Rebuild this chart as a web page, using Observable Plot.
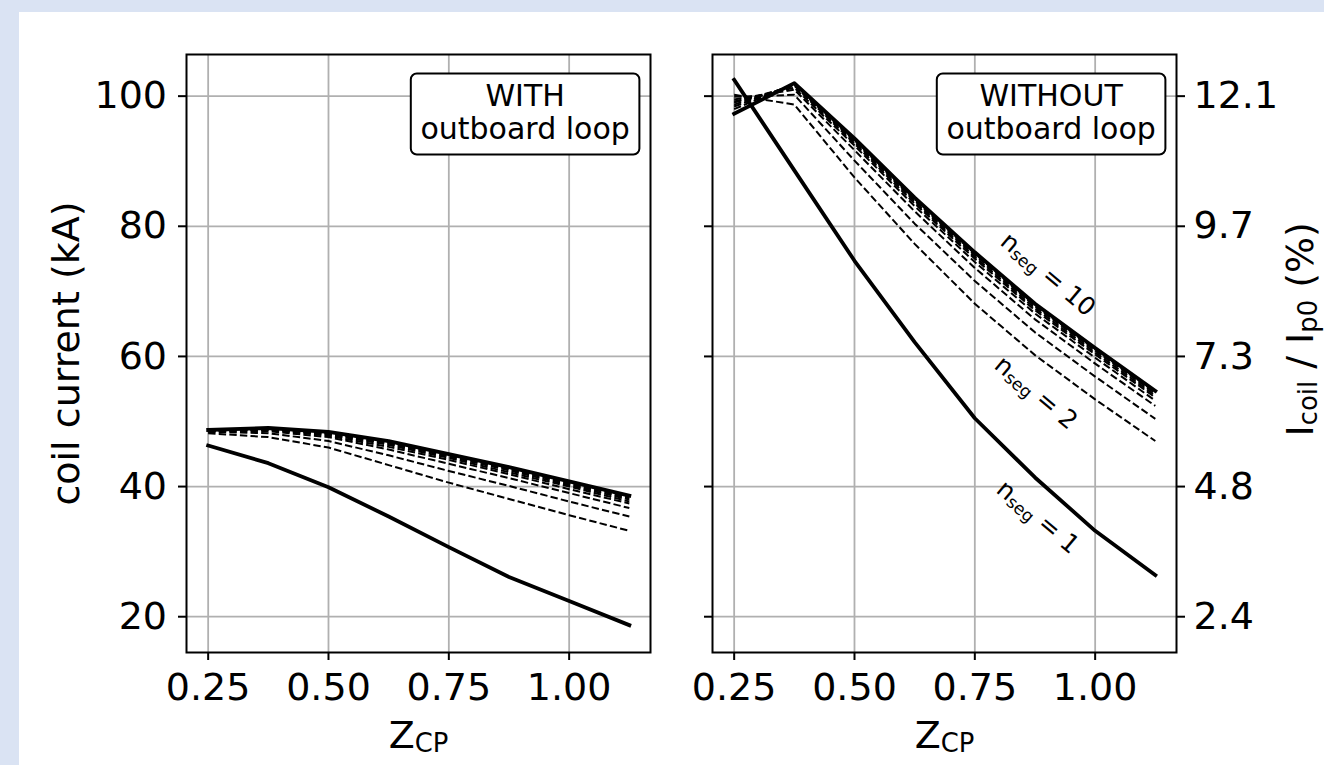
<!DOCTYPE html>
<html>
<head>
<meta charset="utf-8">
<script src="https://cdn.jsdelivr.net/npm/d3@7"></script>
<script src="https://cdn.jsdelivr.net/npm/@observablehq/plot@0.6"></script>
<style>
  html, body { margin: 0; padding: 0; background: #dae3f3; }
  #fig { position: relative; width: 1324px; height: 765px; overflow: hidden; background: #dae3f3; }
  #paper { position: absolute; left: 19px; top: 12px; right: 0; bottom: 0; background: #ffffff; }
  #left { position: absolute; left: 0; top: 0; }
  #right { position: absolute; left: 680px; top: 0; }
  svg text { white-space: pre; }
</style>
</head>
<body>
<div id="fig"><div id="paper"></div><div id="left"></div><div id="right"></div></div>
<script>
// ---------------- data ----------------
const zcp = [0.25, 0.375, 0.5, 0.625, 0.75, 0.875, 1.0, 1.125];
const nsegValues = [1, 2, 3, 4, 5, 6, 7, 8, 9, 10];

// WITH outboard loop: coil current (kA) for n_seg = 1..10
const withN1  = [46.3, 43.6, 39.9, 35.4, 30.7, 26.1, 22.4, 18.7];
const withN2  = [48.2, 47.6, 46.0, 43.3, 40.6, 38.1, 35.6, 33.2];
const withN3  = [48.4, 48.2, 47.0, 44.8, 42.4, 40.1, 37.7, 35.4];
const withN4  = [48.5, 48.5, 47.6, 45.7, 43.5, 41.3, 39.0, 36.7];
const withN5  = [48.6, 48.7, 47.8, 46.1, 44.1, 41.9, 39.6, 37.4];
const withN6  = [48.6, 48.8, 48.0, 46.4, 44.4, 42.2, 40.0, 37.7];
const withN7  = [48.6, 48.8, 48.1, 46.6, 44.6, 42.5, 40.2, 38.0];
const withN8  = [48.7, 48.9, 48.2, 46.7, 44.8, 42.7, 40.4, 38.2];
const withN9  = [48.7, 48.9, 48.3, 46.9, 44.9, 42.8, 40.6, 38.4];
const withN10 = [48.7, 49.0, 48.4, 47.0, 45.0, 43.0, 40.8, 38.6];

// WITHOUT outboard loop
const withoutN1  = [102.5, 88.6, 74.7, 62.2, 50.5, 41.4, 33.2, 26.4];
const withoutN2  = [100.2, 98.7, 87.5, 77.3, 68.1, 60.2, 53.4, 47.0];
const withoutN3  = [99.9, 100.2, 90.1, 80.4, 71.6, 63.7, 56.9, 50.4];
const withoutN4  = [99.5, 101.0, 91.7, 82.3, 73.6, 65.7, 58.9, 52.4];
const withoutN5  = [99.2, 101.3, 92.4, 83.1, 74.5, 66.6, 59.8, 53.2];
const withoutN6  = [99.0, 101.6, 92.7, 83.5, 75.0, 67.1, 60.3, 53.7];
const withoutN7  = [98.7, 101.7, 93.0, 83.8, 75.3, 67.4, 60.6, 54.0];
const withoutN8  = [98.4, 101.8, 93.2, 84.0, 75.6, 67.7, 60.9, 54.3];
const withoutN9  = [98.0, 101.9, 93.3, 84.2, 75.8, 67.9, 61.1, 54.5];
const withoutN10 = [97.3, 102.0, 93.5, 84.4, 76.0, 68.1, 61.3, 54.7];

const xTicks = [0.25, 0.5, 0.75, 1.0];
const xTickLabels = ["0.25", "0.50", "0.75", "1.00"];
const yTicks = [20, 40, 60, 80, 100];
const yTickLabels = ["20", "40", "60", "80", "100"];
const rightTickLabels = ["2.4", "4.8", "7.3", "9.7", "12.1"];

const panelTitles = ["WITH\noutboard loop", "WITHOUT\noutboard loop"];
const xLabel = "Z_{CP}";
const yLabel = "coil current (kA)";
const yRightLabel = "I_{coil} / I_{p0} (%)";

const segLabelText = ["n_{seg} = 10", "n_{seg} = 2", "n_{seg} = 1"];
const segLabelZ = [0.902, 0.877, 0.881];
const segLabelKA = [72.6, 54.4, 35.3];

// ---------------- tables ----------------
function toRows(seriesList) {
  const rows = [];
  seriesList.forEach((vals, k) => {
    vals.forEach((v, i) => rows.push({n: nsegValues[k], z: zcp[i], kA: v}));
  });
  return rows;
}
const withRows = toRows([withN1, withN2, withN3, withN4, withN5, withN6, withN7, withN8, withN9, withN10]);
const withoutRows = toRows([withoutN1, withoutN2, withoutN3, withoutN4, withoutN5, withoutN6, withoutN7, withoutN8, withoutN9, withoutN10]);
const segLabels = segLabelText.map((t, i) => ({t, z: segLabelZ[i], kA: segLabelKA[i]}));

const FONT = "DejaVu Sans";
const GRID = {stroke: "#b0b0b0", strokeOpacity: 1, strokeWidth: 1.8};

function lineMarks(rows) {
  return [
    Plot.line(rows.filter(d => d.n === 1), {x: "z", y: "kA", z: "n", stroke: "black", strokeWidth: 3.8, strokeLinecap: "square", strokeLinejoin: "round"}),
    Plot.line(rows.filter(d => d.n > 1 && d.n < 10), {x: "z", y: "kA", z: "n", stroke: "black", strokeWidth: 2, strokeDasharray: "7.4,3.2", strokeLinecap: "butt", strokeLinejoin: "round"}),
    Plot.line(rows.filter(d => d.n === 10), {x: "z", y: "kA", z: "n", stroke: "black", strokeWidth: 3.8, strokeLinecap: "square", strokeLinejoin: "round"})
  ];
}

function common(title) {
  return [
    Plot.frame({stroke: "black", strokeWidth: 2}),
    Plot.axisX(xTicks, {tickFormat: d => xTickLabels[xTicks.indexOf(d)], tickSize: 8, tickPadding: 13, strokeWidth: 2, fontSize: 38, label: null}),
    Plot.text([xLabel], {text: d => d, frameAnchor: "bottom", textAnchor: "middle", lineAnchor: "bottom", dy: 95, fontSize: 38}),
    Plot.text([title], {text: d => d, frameAnchor: "top-right", textAnchor: "middle", lineAnchor: "top", dx: -125.4, dy: 27.4, fontSize: 30, lineHeight: 1.11})
  ];
}

const xScale = {domain: [0.205, 1.169], label: null};
const yScale = {domain: [14.5, 106.4], label: null};
const style = {fontFamily: FONT, fontSize: "38px", background: "transparent", color: "black", overflow: "visible"};

const leftPlot = Plot.plot({
  width: 680, height: 765,
  marginLeft: 186, marginRight: 30, marginTop: 54, marginBottom: 113,
  x: xScale, y: yScale, style,
  marks: [
    Plot.gridX(xTicks, GRID),
    Plot.gridY(yTicks, GRID),
    ...lineMarks(withRows),
    Plot.axisY(yTicks, {anchor: "left", tickFormat: d => yTickLabels[yTicks.indexOf(d)], tickSize: 8, tickPadding: 11.5, strokeWidth: 2, fontSize: 38, label: null}),
    Plot.text([yLabel], {text: d => d, frameAnchor: "left", rotate: -90, textAnchor: "middle", lineAnchor: "middle", dx: -120, fontSize: 38}),
    ...common(panelTitles[0])
  ]
});

const rightPlot = Plot.plot({
  width: 644, height: 765,
  marginLeft: 32, marginRight: 148, marginTop: 54, marginBottom: 113,
  x: xScale, y: yScale, style,
  marks: [
    Plot.gridX(xTicks, GRID),
    Plot.gridY(yTicks, GRID),
    ...lineMarks(withoutRows),
    Plot.text(segLabels, {x: "z", y: "kA", text: "t", rotate: 40, textAnchor: "middle", lineAnchor: "middle", fontSize: 25}),
    Plot.axisY(yTicks, {anchor: "left", tickFormat: () => "", tickSize: 8, strokeWidth: 2, label: null}),
    Plot.axisY(yTicks, {anchor: "right", tickFormat: d => rightTickLabels[yTicks.indexOf(d)], tickSize: 8, tickPadding: 9, strokeWidth: 2, fontSize: 38, label: null}),
    Plot.text([yRightLabel], {text: d => d, frameAnchor: "right", rotate: -90, textAnchor: "start", lineAnchor: "bottom", dx: 136, dy: 83, fontSize: 38}),
    ...common(panelTitles[1])
  ]
});

document.getElementById("left").appendChild(leftPlot);
document.getElementById("right").appendChild(rightPlot);

// ---------------- text post-processing ----------------
const NS = "http://www.w3.org/2000/svg";
function richify(svg) {
  svg.querySelectorAll("text").forEach(el => {
    if (el.querySelector("tspan")) return;
    const s = el.textContent;
    if (!s.includes("_{")) return;
    const fs = parseFloat(getComputedStyle(el).fontSize);
    const drop = 0.12 * fs;
    el.textContent = "";
    let shifted = false;
    const add = (txt, sub) => {
      const t = document.createElementNS(NS, "tspan");
      t.textContent = txt;
      if (sub) {
        t.setAttribute("font-size", (fs * 0.68).toFixed(2));
        if (!shifted) { t.setAttribute("dy", drop.toFixed(2)); shifted = true; }
      } else if (shifted) {
        t.setAttribute("dy", (-drop).toFixed(2)); shifted = false;
      }
      el.appendChild(t);
    };
    const re = /_\{([^}]*)\}/g;
    let last = 0, m;
    while ((m = re.exec(s))) {
      if (m.index > last) add(s.slice(last, m.index), false);
      add(m[1], true);
      last = re.lastIndex;
    }
    if (last < s.length) add(s.slice(last), false);
  });
}
function boxify(svg) {
  svg.querySelectorAll("text").forEach(el => {
    if (!el.textContent.includes("outboard")) return;
    const bb = el.getBBox();
    const r = document.createElementNS(NS, "rect");
    const padX = 9.6, padTop = 4, padBottom = 8.6;
    r.setAttribute("x", bb.x - padX);
    r.setAttribute("y", bb.y - padTop);
    r.setAttribute("width", bb.width + 2 * padX);
    r.setAttribute("height", bb.height + padTop + padBottom);
    r.setAttribute("rx", 6);
    r.setAttribute("ry", 6);
    r.setAttribute("fill", "white");
    r.setAttribute("stroke", "black");
    r.setAttribute("stroke-width", 2);
    const tr = el.getAttribute("transform");
    if (tr) r.setAttribute("transform", tr);
    el.parentNode.insertBefore(r, el);
  });
}
[leftPlot, rightPlot].forEach(svg => { richify(svg); boxify(svg); });
</script>
</body>
</html>
